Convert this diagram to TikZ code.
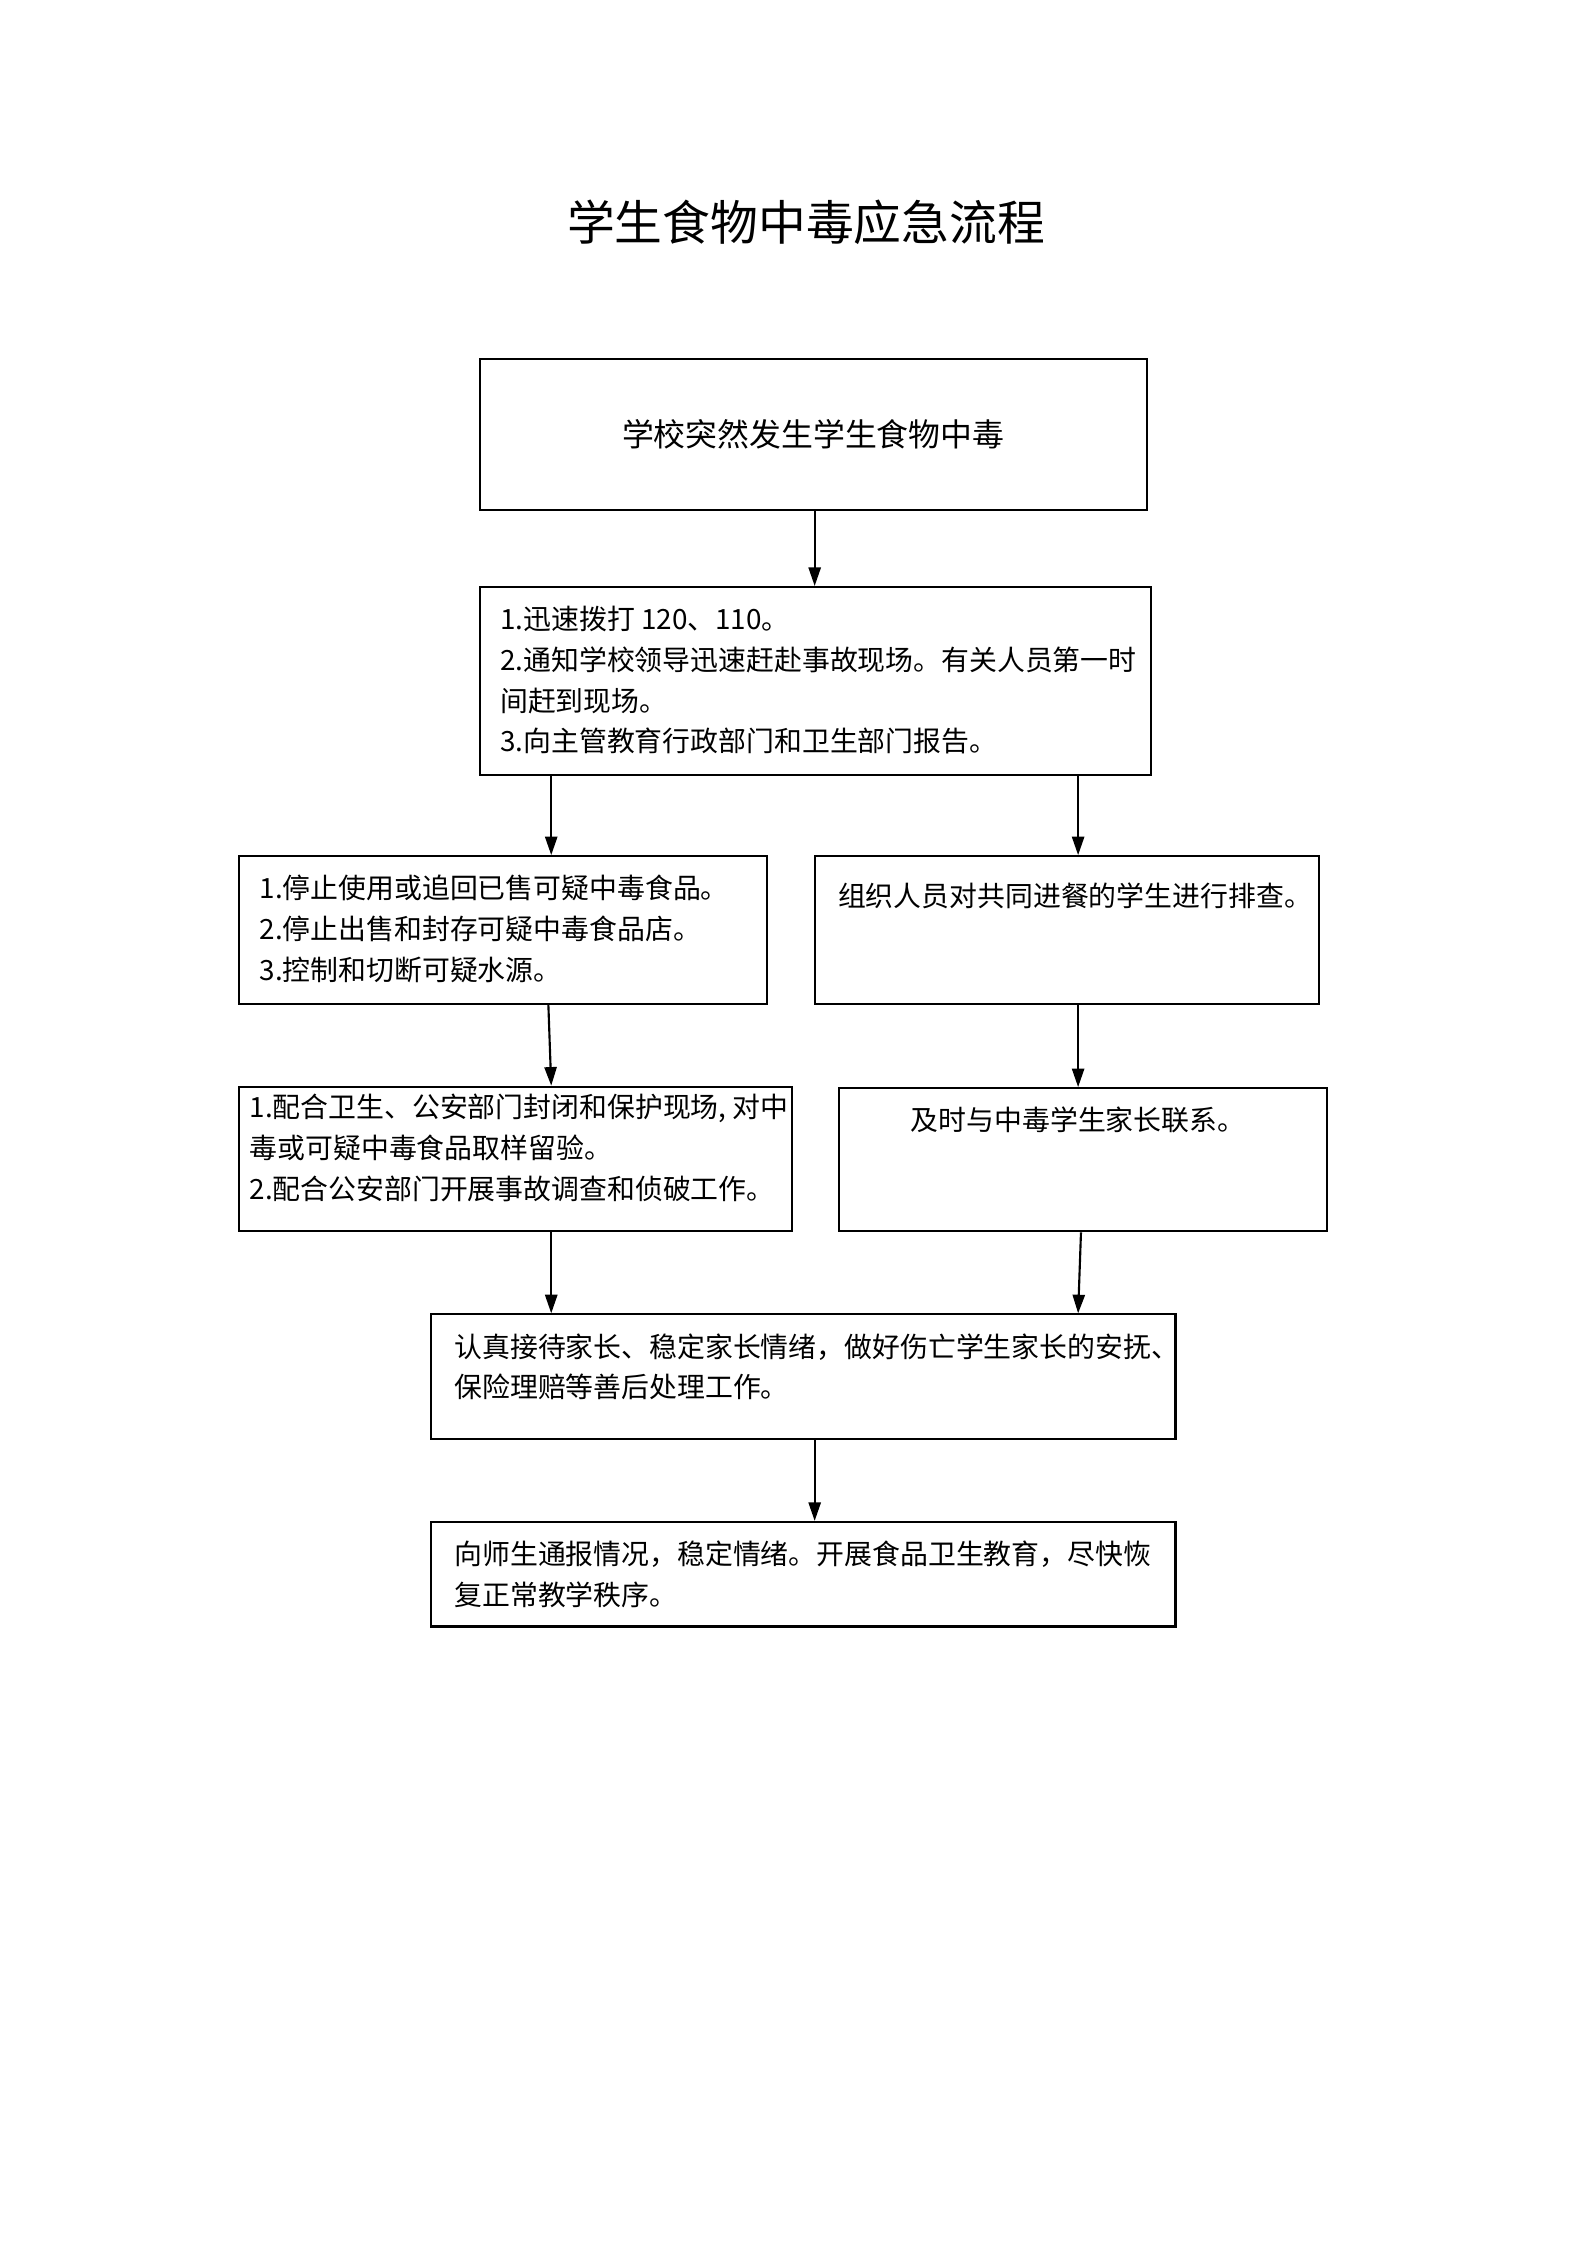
\documentclass[tikz,border=0pt]{standalone}
\usepackage{fontspec}
\setmainfont{Noto Sans CJK SC}
\usetikzlibrary{arrows.meta}
\begin{document}
\begin{tikzpicture}[x=0.5394pt,y=-0.5394pt,
  box/.style 2 args={draw, line width=0.8pt, inner sep=0pt,
    minimum width=#1*0.5394pt, minimum height=#2*0.5394pt},
  txt/.style={inner sep=0pt, anchor=north west, align=left,
    font=\fontsize{10.5}{15.37}\selectfont},
  arr/.style={line width=0.8pt, -{Triangle[length=7pt,width=4.6pt]}}]
\useasboundingbox[fill=white] (0,0) rectangle (1108.5,1568);
% title
\node[font=\fontsize{18}{22}\selectfont, inner sep=0pt] (title) at (563,155) {学生食物中毒应急流程};
% boxes
\node[box={466}{105}, font=\fontsize{12}{14}\selectfont] (b1) at (568,303.5) {学校突然发生学生食物中毒};
\node[box={469}{131}] (b2) at (569.5,475.5) {};
\node[box={369}{103}] (b3l) at (351.5,649.5) {};
\node[box={352}{103}] (b3r) at (745,649.5) {};
\node[box={386}{101}] (b4l) at (360,809.5) {};
\node[box={341}{100}] (b4r) at (756.5,810) {};
\node[box={520}{87}] (b5) at (561,961.5) {};
\node[box={520}{73}] (b6) at (561,1099.5) {};
% texts
\node[txt] (t2) at (349,423) {1.迅速拨打 120、110。\\2.通知学校领导迅速赶赴事故现场。有关人员第一时\\间赶到现场。\\3.向主管教育行政部门和卫生部门报告。};
\node[txt] (t3l) at (181,611) {1.停止使用或追回已售可疑中毒食品。\\2.停止出售和封存可疑中毒食品店。\\3.控制和切断可疑水源。};
\node[txt] (t3r) at (585,616) {组织人员对共同进餐的学生进行排查。};
\node[txt] (t4l) at (174,764) {1.配合卫生、公安部门封闭和保护现场, 对中\\毒或可疑中毒食品取样留验。\\2.配合公安部门开展事故调查和侦破工作。};
\node[txt, anchor=center] (t4r) at (753,782) {及时与中毒学生家长联系。};
\node[txt] (t5) at (317,931) {认真接待家长、稳定家长情绪，做好伤亡学生家长的安抚、\\保险理赔等善后处理工作。};
\node[txt] (t6) at (317,1076) {向师生通报情况，稳定情绪。开展食品卫生教育，尽快恢\\复正常教学秩序。};
% arrows
\draw[arr] (b1.south -| 569,0) -- (b2.north -| 569,0);
\draw[arr] (b2.south -| 385,0) -- (b3l.north -| 385,0);
\draw[arr] (b2.south -| 753,0) -- (b3r.north -| 753,0);
\draw[arr] (b3l.south -| 383,0) -- (b4l.north -| 385,0);
\draw[arr] (b3r.south -| 753,0) -- (b4r.north -| 753,0);
\draw[arr] (b4l.south -| 385,0) -- (b5.north -| 385,0);
\draw[arr] (b4r.south -| 755,0) -- (b5.north -| 753,0);
\draw[arr] (b5.south -| 569,0) -- (b6.north -| 569,0);
\end{tikzpicture}
\end{document}
